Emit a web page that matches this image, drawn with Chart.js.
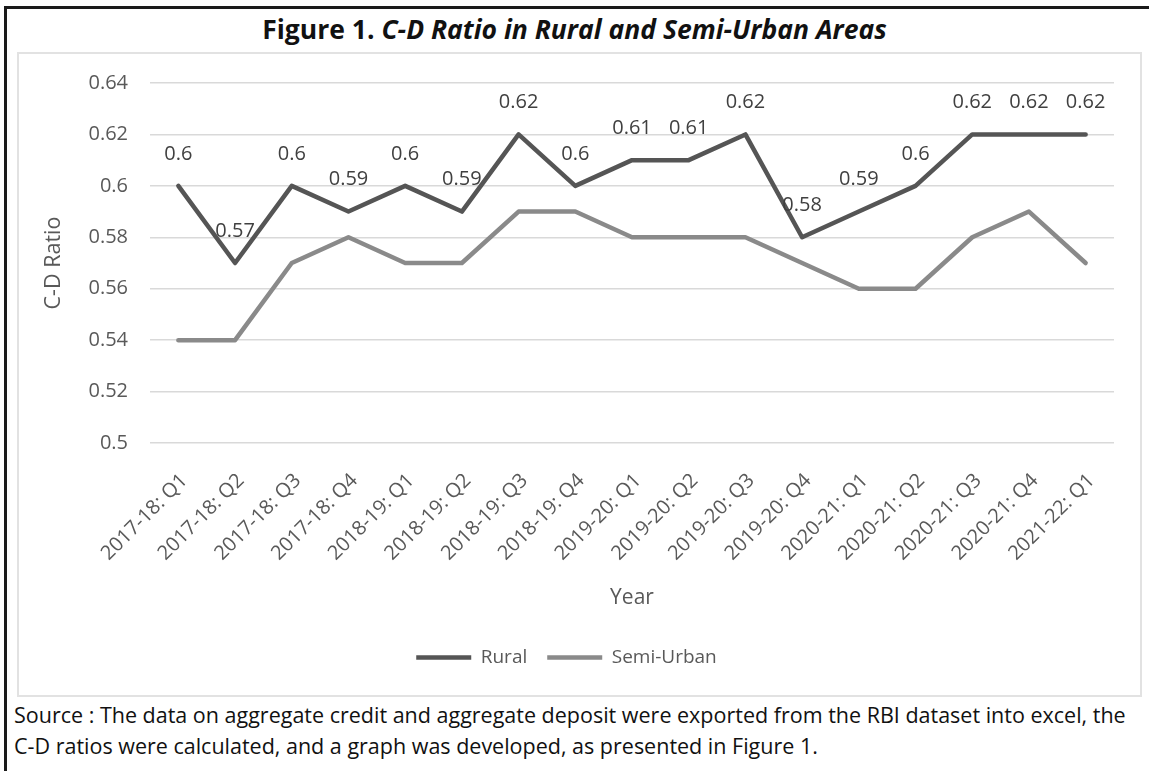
<!DOCTYPE html>
<html>
<head>
<meta charset="utf-8">
<script src="https://cdn.jsdelivr.net/npm/chart.js@4.4.1/dist/chart.umd.min.js"></script>
<style>
  body { margin: 0; background: #fff; width: 1149px; height: 771px; overflow: hidden; position: relative; font-family: "Open Sans", sans-serif; }
  #frame { position: absolute; left: 4px; top: 6px; width: 1200px; height: 800px; border-left: 3px solid #1a1a1a; border-top: 3px solid #1a1a1a; }
  #title { position: absolute; left: 0; width: 1149px; top: 11px; text-align: center; font-weight: bold; font-size: 26.5px; line-height: 36px; color: #111; }
  #box { position: absolute; left: 17px; top: 52px; width: 1121px; height: 641px; border: 2px solid #e2e2e2; }
  #source { position: absolute; left: 14px; top: 699px; width: 1140px; font-size: 21.5px; line-height: 31px; color: #111; white-space: nowrap; }
</style>
</head>
<body>
<div id="frame"></div>
<div id="title">Figure 1. <i>C-D Ratio in Rural and Semi-Urban Areas</i></div>
<div id="box"><canvas id="myChart" width="1121" height="641"></canvas></div>
<div id="source">Source : The data on aggregate credit and aggregate deposit were exported from the RBI dataset into excel, the<br>C-D ratios were calculated, and a graph was developed, as presented in Figure 1.</div>
<script>
const quarters = [
  "2017-18: Q1", "2017-18: Q2", "2017-18: Q3", "2017-18: Q4",
  "2018-19: Q1", "2018-19: Q2", "2018-19: Q3", "2018-19: Q4",
  "2019-20: Q1", "2019-20: Q2", "2019-20: Q3", "2019-20: Q4",
  "2020-21: Q1", "2020-21: Q2", "2020-21: Q3", "2020-21: Q4",
  "2021-22: Q1",
];
const rural = [0.6, 0.57, 0.6, 0.59, 0.6, 0.59, 0.62, 0.6, 0.61, 0.61, 0.62, 0.58, 0.59, 0.6, 0.62, 0.62, 0.62];
const semiUrban = [0.54, 0.54, 0.57, 0.58, 0.57, 0.57, 0.59, 0.59, 0.58, 0.58, 0.58, 0.57, 0.56, 0.56, 0.58, 0.59, 0.57];
const yMin = 0.5;
const yMax = 0.64;
const yStep = 0.02;

// labels above the Rural points, like excel's "above" data labels
const ruralLabels = {
  id: "ruralLabels",
  afterDatasetsDraw(chart) {
    const ctx = chart.ctx;
    const meta = chart.getDatasetMeta(0);
    ctx.save();
    ctx.font = "20px 'Open Sans'";
    ctx.fillStyle = "#404040";
    ctx.textAlign = "center";
    ctx.textBaseline = "middle";
    meta.data.forEach((pt, i) => {
      ctx.fillText(String(rural[i]), pt.x, pt.y - 32);
    });
    ctx.restore();
  },
};

const ctx = document.getElementById("myChart");

new Chart(ctx, {
  type: "line",
  data: {
    labels: quarters,
    datasets: [
      {
        label: "Rural",
        data: rural,
        borderColor: "#555555",
        backgroundColor: "#555555",
        borderWidth: 4.5,
        pointRadius: 0,
        borderJoinStyle: "round",
        borderCapStyle: "round",
      },
      {
        label: "Semi-Urban",
        data: semiUrban,
        borderColor: "#8a8a8a",
        backgroundColor: "#8a8a8a",
        borderWidth: 4.5,
        pointRadius: 0,
        borderJoinStyle: "round",
        borderCapStyle: "round",
      },
    ],
  },
  options: {
    responsive: false,
    animation: false,
    layout: { padding: { top: 29, right: 26, left: 0, bottom: 18 } },
    plugins: {
      tooltip: { enabled: false },
      legend: {
        position: "bottom",
        labels: {
          usePointStyle: true,
          pointStyle: "line",
          pointStyleWidth: 55,
          boxWidth: 55,
          padding: 20,
          color: "#595959",
          font: { family: "'Open Sans'", size: 19 },
        },
      },
    },
    scales: {
      x: {
        offset: true,
        grid: { display: false },
        border: { display: false },
        ticks: {
          minRotation: 45,
          maxRotation: 45,
          autoSkip: false,
          color: "#595959",
          padding: 18,
          labelOffset: 6,
          font: { family: "'Open Sans'", size: 20 },
        },
        title: {
          display: true,
          text: "Year",
          color: "#595959",
          padding: { top: 0, bottom: 17 },
          font: { family: "'Open Sans'", size: 21 },
        },
        afterFit(scale) { scale.height = 185; },
      },
      y: {
        min: yMin,
        max: yMax,
        grid: { color: "#d9d9d9", lineWidth: 1.5, drawTicks: true, tickLength: 18, tickColor: "rgba(0,0,0,0)" },
        border: { display: false },
        ticks: {
          stepSize: yStep,
          padding: 4,
          color: "#595959",
          font: { family: "'Open Sans'", size: 20 },
          callback: (v) => String(parseFloat(v.toFixed(2))),
        },
        title: {
          display: true,
          text: "C-D Ratio",
          color: "#595959",
          padding: { top: 22, bottom: 0 },
          font: { family: "'Open Sans'", size: 21.5 },
        },
        afterFit(scale) { scale.width = 131; },
      },
    },
  },
  plugins: [ruralLabels],
});
</script>
</body>
</html>
